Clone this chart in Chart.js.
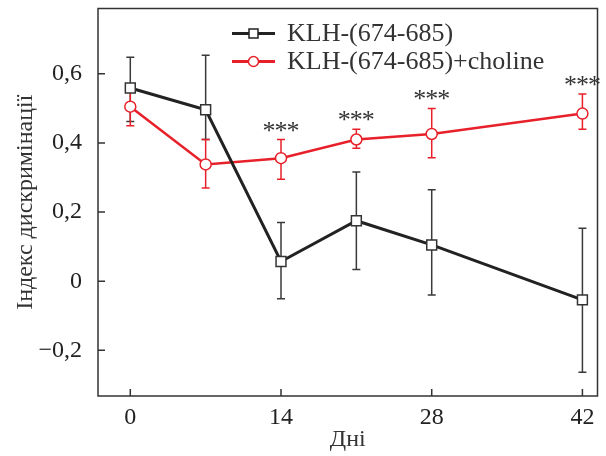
<!DOCTYPE html>
<html>
<head>
<meta charset="utf-8">
<script src="https://cdn.jsdelivr.net/npm/chart.js@4"></script>
<style>
  html, body { margin: 0; padding: 0; background: #fff; }
  #wrap { width: 606px; height: 456px; }
</style>
</head>
<body>
<div id="wrap"><canvas id="chart" width="606" height="456"></canvas></div>
<script>
var days = [0, 7, 14, 21, 28, 42];
var klhMean  = [0.559, 0.496, 0.057, 0.175, 0.105, -0.054];
var klhUpper = [0.648, 0.654, 0.170, 0.316, 0.265, 0.153];
var klhLower = [0.462, 0.410, -0.051, 0.034, -0.040, -0.263];
var cholMean  = [0.505, 0.338, 0.356, 0.410, 0.426, 0.485];
var cholUpper = [0.560, 0.410, 0.410, 0.440, 0.500, 0.542];
var cholLower = [0.450, 0.270, 0.295, 0.385, 0.357, 0.440];
var starDays = [14, 21, 28, 42];
var xTicks = [0, 14, 28, 42];
var yTicks = [-0.2, 0, 0.2, 0.4, 0.6];
var seriesNames = ['KLH-(674-685)', 'KLH-(674-685)+choline'];

var BLACK = '#222222';
var RED = '#e8202a';
var SERIF = '"Liberation Serif", "DejaVu Serif", serif';

function pts(ys) {
    return days.map(function (d, i) { return { x: d, y: ys[i] }; });
}

// error bars go under the lines and markers
var errorBars = {
    id: 'errorBars',
    beforeDatasetsDraw: function (chart) {
        var ctx = chart.ctx;
        var xs = chart.scales.x, ys = chart.scales.y;
        var sets = [[klhUpper, klhLower, '#3a3a3a'], [cholUpper, cholLower, RED]];
        ctx.save();
        ctx.lineWidth = 1.5;
        sets.forEach(function (s) {
            ctx.strokeStyle = s[2];
            days.forEach(function (d, i) {
                var x = xs.getPixelForValue(d);
                var y1 = ys.getPixelForValue(s[0][i]);
                var y2 = ys.getPixelForValue(s[1][i]);
                ctx.beginPath();
                ctx.moveTo(x, y1); ctx.lineTo(x, y2);
                ctx.moveTo(x - 4, y1); ctx.lineTo(x + 4, y1);
                ctx.moveTo(x - 4, y2); ctx.lineTo(x + 4, y2);
                ctx.stroke();
            });
        });
        ctx.restore();
    }
};

// frame, inward ticks, stars, legend
var decor = {
    id: 'decor',
    afterDraw: function (chart) {
        var ctx = chart.ctx;
        var a = chart.chartArea;
        var xs = chart.scales.x, ys = chart.scales.y;
        ctx.save();
        ctx.strokeStyle = '#333';
        ctx.lineWidth = 1.5;
        ctx.strokeRect(a.left, a.top, a.right - a.left, a.bottom - a.top);
        ctx.beginPath();
        xTicks.forEach(function (v) {
            var x = xs.getPixelForValue(v);
            ctx.moveTo(x, a.bottom); ctx.lineTo(x, a.bottom - 7);
        });
        yTicks.forEach(function (v) {
            var y = ys.getPixelForValue(v);
            ctx.moveTo(a.left, y); ctx.lineTo(a.left + 7, y);
        });
        ctx.stroke();

        // significance stars
        ctx.fillStyle = '#333';
        ctx.font = '26px ' + SERIF;
        ctx.textAlign = 'center';
        ctx.textBaseline = 'alphabetic';
        starDays.forEach(function (d) {
            var i = days.indexOf(d);
            var x = xs.getPixelForValue(d);
            var y = ys.getPixelForValue(cholUpper[i]) - 11;
            [-12, 0, 12].forEach(function (dx) {
                ctx.fillText('*', x + dx, y + 10);
            });
        });

        // legend
        var lx1 = a.left + 134, lx2 = a.left + 177, lm = (lx1 + lx2) / 2;
        var rows = [[a.top + 25, BLACK, 'rect'], [a.top + 53, RED, 'circle']];
        ctx.font = '26px ' + SERIF;
        ctx.textAlign = 'left';
        ctx.textBaseline = 'middle';
        rows.forEach(function (r, k) {
            ctx.strokeStyle = r[1];
            ctx.lineWidth = 3;
            ctx.beginPath();
            ctx.moveTo(lx1, r[0]); ctx.lineTo(lx2, r[0]);
            ctx.stroke();
            ctx.fillStyle = '#fff';
            ctx.lineWidth = 1.5;
            ctx.beginPath();
            if (r[2] === 'rect') ctx.rect(lm - 4.5, r[0] - 4.5, 9, 9);
            else ctx.arc(lm, r[0], 5, 0, Math.PI * 2);
            ctx.fill();
            ctx.stroke();
            ctx.fillStyle = '#333';
            ctx.fillText(seriesNames[k], a.left + 189, r[0] + 1);
        });
        ctx.restore();
    }
};

function fmtY(v) {
    if (Math.abs(v) < 1e-9) return '0';
    var s = Math.abs(v).toFixed(1).replace('.', ',');
    return v < 0 ? '\u2212' + s : s;
}

function noEdgePad(s) {
    s.paddingTop = 0; s.paddingBottom = 0;
    s.paddingLeft = 0; s.paddingRight = 0;
}

new Chart(document.getElementById('chart').getContext('2d'), {
    type: 'line',
    data: {
        datasets: [{
            label: seriesNames[0],
            data: pts(klhMean),
            borderColor: BLACK,
            borderWidth: 3,
            pointStyle: 'rect',
            pointRadius: 7,
            pointBorderWidth: 1.5,
            pointBorderColor: '#333',
            pointBackgroundColor: '#fff',
            tension: 0
        }, {
            label: seriesNames[1],
            data: pts(cholMean),
            borderColor: RED,
            borderWidth: 2.5,
            pointStyle: 'circle',
            pointRadius: 5.5,
            pointBorderWidth: 1.5,
            pointBorderColor: RED,
            pointBackgroundColor: '#fff',
            tension: 0
        }]
    },
    options: {
        responsive: false,
        animation: false,
        layout: { padding: { top: 5, right: 8, left: 0, bottom: 0 } },
        plugins: { legend: { display: false }, tooltip: { enabled: false } },
        scales: {
            x: {
                type: 'linear',
                min: -3,
                max: 43.4,
                grid: { display: false },
                border: { display: false },
                afterBuildTicks: function (s) { s.ticks = xTicks.map(function (v) { return { value: v }; }); },
                afterFit: function (s) { s.height = 60; noEdgePad(s); },
                ticks: {
                    color: '#222',
                    padding: -1,
                    maxRotation: 0,
                    font: { family: SERIF, size: 24 }
                },
                title: {
                    display: true,
                    text: 'Дні',
                    color: '#333',
                    font: { family: SERIF, size: 24 },
                    padding: { top: 0, bottom: 2 }
                }
            },
            y: {
                min: -0.332,
                max: 0.789,
                grid: { display: false },
                border: { display: false },
                afterBuildTicks: function (s) { s.ticks = yTicks.map(function (v) { return { value: v }; }); },
                afterFit: function (s) { s.width = 98; noEdgePad(s); },
                ticks: {
                    color: '#222',
                    padding: 8,
                    font: { family: SERIF, size: 24 },
                    callback: function (v) { return fmtY(v); }
                },
                title: {
                    display: true,
                    text: 'Індекс дискримінації',
                    color: '#333',
                    font: { family: SERIF, size: 24 },
                    padding: { top: 11, bottom: 0 }
                }
            }
        }
    },
    plugins: [errorBars, decor]
});
</script>
</body>
</html>
